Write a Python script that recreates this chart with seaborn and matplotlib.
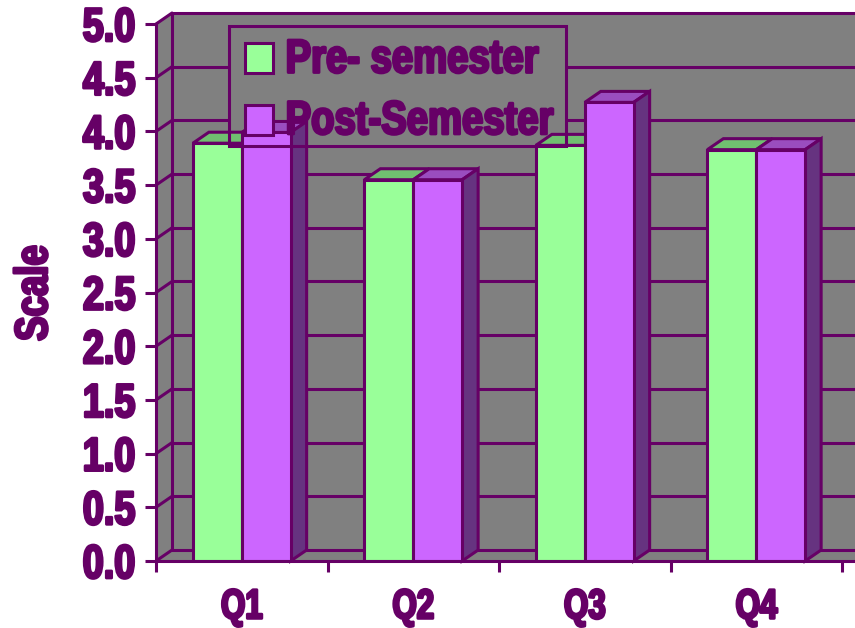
import matplotlib
matplotlib.use("Agg")
import matplotlib.pyplot as plt
import matplotlib.patheffects as pe
from matplotlib.patches import Polygon, Rectangle
from matplotlib.transforms import Affine2D
import numpy as np
import pandas as pd
import seaborn as sns

quarters = ["Q1", "Q2", "Q3", "Q4"]
pre_semester = [3.89, 3.55, 3.87, 3.83]
post_semester = [3.99, 3.55, 4.27, 3.83]
series_names = ["Pre- semester", "Post-Semester"]
y_ticks = [0.0, 0.5, 1.0, 1.5, 2.0, 2.5, 3.0, 3.5, 4.0, 4.5, 5.0]

INK = "#660066"
WALL = "#808080"
GREEN = "#99FF99"
PURPLE = "#CC66FF"
TOP_COLORS = ["#70BF70", "#9A4DBF"]
SIDE_COLOR = "#663380"
W, H = 855, 628
LW = 2.2


# no condensed heavy font here, so squeeze the glyphs along the baseline
class Squeeze(pe.AbstractPathEffect):
    def __init__(self, sx, anchor, lw=2.0, lift=0):
        super().__init__()
        self.sx = sx
        self.anchor = anchor
        self.lw = lw
        self.lift = lift

    def draw_path(self, renderer, gc, tpath, affine, rgbFace=None):
        ext = tpath.get_extents()
        a = ext.x0 + self.anchor * (ext.x1 - ext.x0)
        t = Affine2D().translate(-a, 0).scale(self.sx, 1).translate(a, 0) + affine
        t = t + Affine2D().translate(0, self.lift)
        gc0 = renderer.new_gc()
        gc0.copy_properties(gc)
        gc0.set_foreground(INK)
        gc0.set_linewidth(self.lw)
        renderer.draw_path(gc0, tpath, t, rgbFace)
        gc0.restore()


sns.set_theme(style="white")
plt.rcParams["font.family"] = ["Liberation Sans", "DejaVu Sans"]
plt.rcParams["font.weight"] = "bold"

df = pd.DataFrame({
    "quarter": quarters * 2,
    "value": pre_semester + post_semester,
    "series": [series_names[0]] * 4 + [series_names[1]] * 4,
})

fig = plt.figure(figsize=(W / 100, H / 100), dpi=100, facecolor="white")
ax = fig.add_axes([156 / W, (H - 561) / H, 686 / W, 537 / H])
ax.patch.set_visible(False)

sns.barplot(data=df, x="quarter", y="value", hue="series", palette=[GREEN, PURPLE],
            width=0.57, gap=0, edgecolor=INK, linewidth=LW, saturation=1,
            errorbar=None, zorder=5, ax=ax)
handles, labels = ax.get_legend_handles_labels()
ax.get_legend().remove()
ax.set_xlim(-0.5, 3.5)
ax.set_ylim(0, 5)

# depth of the fake 3d box, in data units
dx = 16 / 171.5
dy = 11 / 107.4
x0, x1 = -0.5, 3.5
right = x1 + 0.2

# back wall, floor and side wall
ax.add_patch(Rectangle((x0 + dx, dy), right - x0, 5, fc=WALL, ec="none", zorder=0, clip_on=False))
ax.add_patch(Polygon([(x0, 0), (x0 + dx, dy), (x0 + dx, 5 + dy), (x0, 5)], fc=WALL, ec="none",
                     zorder=0, clip_on=False))
ax.add_patch(Polygon([(x0, 0), (right, 0), (right, dy), (x0 + dx, dy)], fc=WALL, ec="none",
                     zorder=0, clip_on=False))

for v in y_ticks:
    ax.plot([x0 + dx, right], [v + dy, v + dy], color=INK, lw=LW, zorder=1, clip_on=False)
    ax.plot([x0, x0 + dx], [v, v + dy], color=INK, lw=LW, zorder=1, clip_on=False)
ax.plot([x0 + dx, x0 + dx], [dy, 5 + dy], color=INK, lw=LW, zorder=1, clip_on=False)

# legend fill sits under the bars, its border and text on top of them
ax.add_patch(Rectangle((229 / W, (H - 146) / H), 337 / W, 120 / H, transform=fig.transFigure,
                       fc=WALL, ec="none", zorder=2, clip_on=False))
ax.add_patch(Rectangle((229 / W, (H - 146) / H), 337 / W, 120 / H, transform=fig.transFigure,
                       fc="none", ec=INK, lw=LW, zorder=6, clip_on=False))

# top and side faces built from the bars seaborn drew
bars = [p for p in ax.patches if p.get_zorder() == 5 and p.get_height() > 0]
for i, bar in enumerate(bars):
    left = bar.get_x()
    w = bar.get_width()
    h = bar.get_height()
    c = i // 4
    ax.add_patch(Polygon([(left, h), (left + w, h), (left + w + dx, h + dy), (left + dx, h + dy)],
                         fc=TOP_COLORS[c], ec=INK, lw=LW, zorder=4, clip_on=False))
    if c == 1:
        ax.add_patch(Polygon([(left + w, 0), (left + w + dx, dy), (left + w + dx, h + dy), (left + w, h)],
                             fc=SIDE_COLOR, ec=INK, lw=LW, zorder=4, clip_on=False))

ax.set_yticks(y_ticks)
ax.set_yticklabels([f"{v:.1f}" for v in y_ticks])
ax.set_xticks(np.arange(-0.5, 4.5), minor=True)
ax.set_xticks(range(4))
ax.set_xticklabels(quarters)
ax.tick_params(axis="y", length=8, width=LW, color=INK, pad=6.5, labelsize=34, labelcolor=INK, left=True)
ax.tick_params(axis="x", which="major", length=0, pad=19, labelsize=30, labelcolor=INK)
ax.tick_params(axis="x", which="minor", length=8, width=LW, color=INK, bottom=True)
for t in ax.get_yticklabels():
    t.set_path_effects([Squeeze(0.8, 1)])
for t in ax.get_xticklabels():
    t.set_path_effects([Squeeze(0.75, 0.5)])

ax.set_xlabel("")
ax.set_ylabel("Scale", fontsize=33, color=INK, fontweight="bold",
              path_effects=[Squeeze(0.8, 0.5)])
ax.yaxis.set_label_coords((57 - 156) / 686, (561 - 293) / 537)

sns.despine(ax=ax, top=True, right=True)
for side in ["left", "bottom"]:
    ax.spines[side].set_color(INK)
    ax.spines[side].set_linewidth(LW)
    ax.spines[side].set_zorder(7)
ax.spines["bottom"].set_bounds(x0, right)

leg = ax.legend(handles, labels, loc="upper left", bbox_to_anchor=(245 / W, (H - 41) / H),
                bbox_transform=fig.transFigure, frameon=False, fontsize=34, labelcolor=INK,
                borderpad=0, borderaxespad=0, handlelength=0.593, handleheight=0.593,
                handletextpad=0.254, labelspacing=0.37)
leg.set_zorder(8)
for t in leg.get_texts():
    t.set_path_effects([Squeeze(0.81, 0, lift=2.5)])

fig.savefig("out.png", dpi=100)
